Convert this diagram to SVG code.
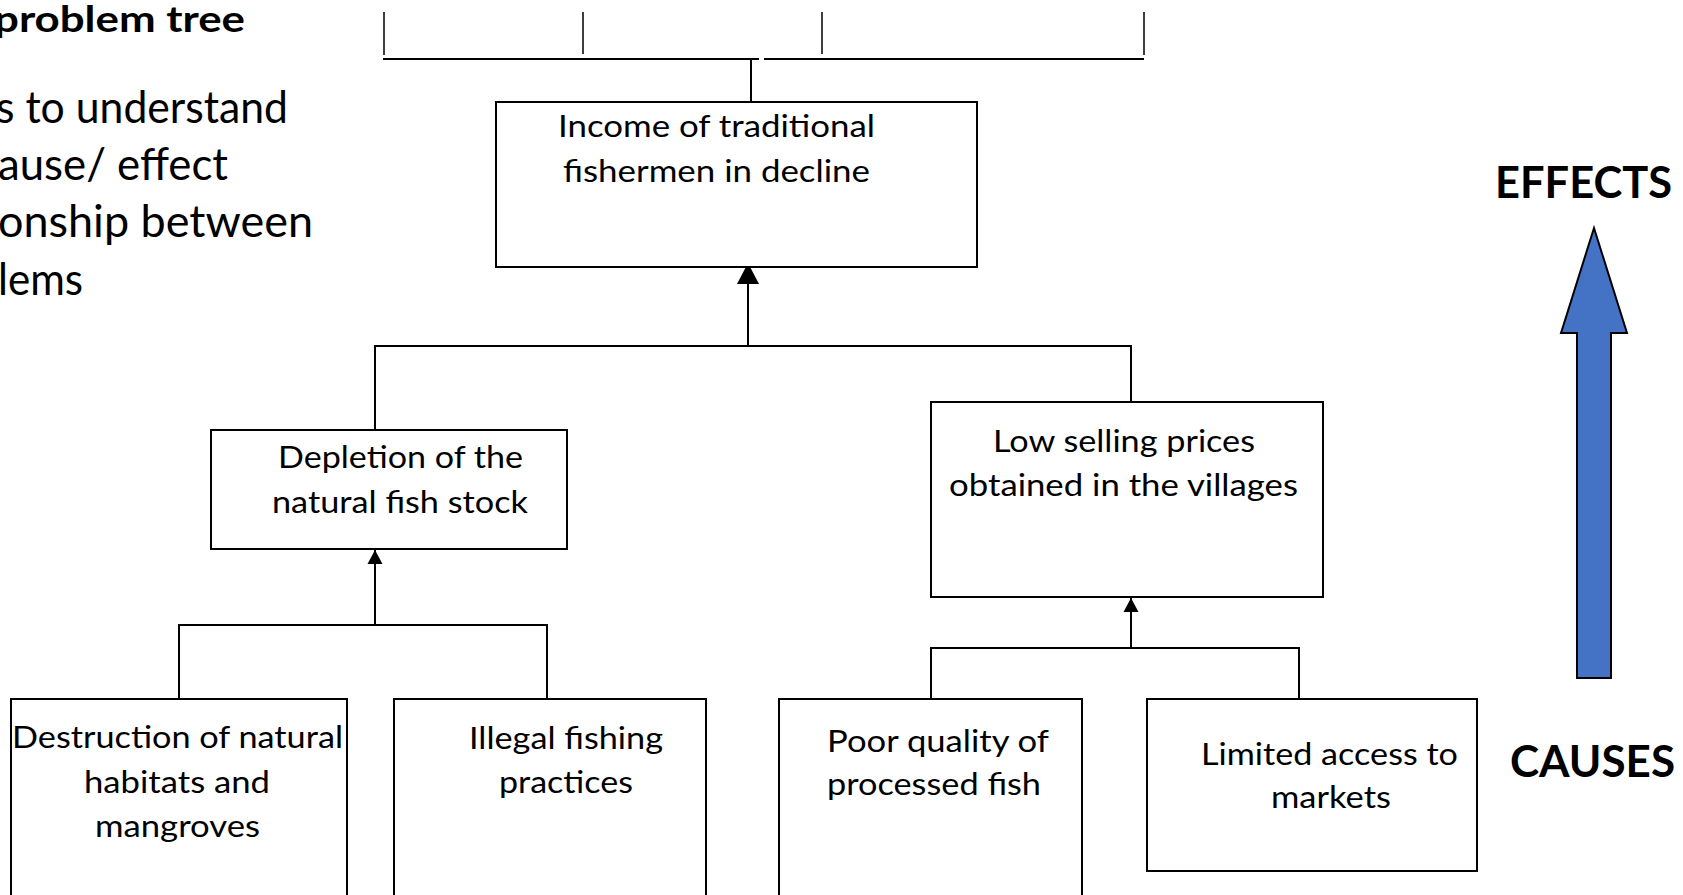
<svg xmlns="http://www.w3.org/2000/svg" width="1683" height="895" viewBox="0 0 1683 895">
  <style>
    text { font-family: "Lato", "Liberation Sans", sans-serif; fill: #000; }
    .box { fill: #fff; stroke: #000; stroke-width: 2; }
    .lbl { font-size: 30px; }
    .body { font-size: 44px; }
    .title { font-size: 36px; font-weight: bold; }
    .side { font-size: 43px; font-weight: bold; }
    .wire { fill: none; stroke: #000; stroke-width: 2; }
    .tick { fill: none; stroke: #000; stroke-width: 1.5; }
  </style>
  <defs>
    <marker id="head-s" markerUnits="userSpaceOnUse" markerWidth="15" markerHeight="16" viewBox="0 0 15 16" refX="14" refY="8" orient="auto">
      <path d="M0,0.5 L14,8 L0,15.5 Z" fill="#000"/>
    </marker>
    <marker id="head-l" markerUnits="userSpaceOnUse" markerWidth="22" markerHeight="23" viewBox="0 0 22 23" refX="21" refY="11.5" orient="auto">
      <path d="M0,0.5 L21,11.5 L0,22.5 Z" fill="#000"/>
    </marker>
  </defs>

  <!-- heading and explanatory text -->
  <g id="heading">
    <text class="title" x="-6" y="32" textLength="251" lengthAdjust="spacingAndGlyphs">problem tree</text>
    <text class="body" x="-4" y="123" textLength="292" lengthAdjust="spacingAndGlyphs">s to understand</text>
    <text class="body" x="-2" y="180" textLength="230" lengthAdjust="spacingAndGlyphs">ause/ effect</text>
    <text class="body" x="-2" y="237" textLength="315" lengthAdjust="spacingAndGlyphs">onship between</text>
    <text class="body" x="-2" y="295" textLength="85" lengthAdjust="spacingAndGlyphs">lems</text>
  </g>

  <!-- connectors -->
  <g id="connectors">
    <!-- bracket above the core problem -->
    <path class="wire" d="M383,59 H759 M764,59 H1144"/>
    <path class="tick" d="M384,12 V55 M583,12 V54 M822,12 V54 M1144,12 V55"/>
    <path class="wire" d="M751,59 V102"/>
    <!-- direct causes to core problem -->
    <path class="wire" d="M375,430 V346 H1131 V430"/>
    <path class="wire" d="M748,346 V263" marker-end="url(#head-l)"/>
    <!-- causes of stock depletion -->
    <path class="wire" d="M179,699 V625 H547 V699"/>
    <path class="wire" d="M375,625 V550" marker-end="url(#head-s)"/>
    <!-- causes of low prices -->
    <path class="wire" d="M931,699 V648 H1299 V699"/>
    <path class="wire" d="M1131,648 V598" marker-end="url(#head-s)"/>
  </g>

  <g id="core">
    <rect class="box" x="496" y="102" width="481" height="165"/>
    <text class="lbl" x="558" y="137" textLength="317" lengthAdjust="spacingAndGlyphs">Income of traditional</text>
    <text class="lbl" x="563" y="182" textLength="307" lengthAdjust="spacingAndGlyphs">fishermen in decline</text>
  </g>

  <g id="depletion">
    <rect class="box" x="211" y="430" width="356" height="119"/>
    <text class="lbl" x="278" y="468" textLength="245" lengthAdjust="spacingAndGlyphs">Depletion of the</text>
    <text class="lbl" x="272" y="513" textLength="256" lengthAdjust="spacingAndGlyphs">natural fish stock</text>
  </g>

  <g id="low-prices">
    <rect class="box" x="931" y="402" width="392" height="195"/>
    <text class="lbl" x="993" y="452" textLength="262" lengthAdjust="spacingAndGlyphs">Low selling prices</text>
    <text class="lbl" x="949" y="496" textLength="349" lengthAdjust="spacingAndGlyphs">obtained in the villages</text>
  </g>

  <g id="habitats">
    <rect class="box" x="11" y="699" width="336" height="220"/>
    <text class="lbl" x="12" y="748" textLength="331" lengthAdjust="spacingAndGlyphs">Destruction of natural</text>
    <text class="lbl" x="84" y="793" textLength="186" lengthAdjust="spacingAndGlyphs">habitats and</text>
    <text class="lbl" x="95" y="837" textLength="165" lengthAdjust="spacingAndGlyphs">mangroves</text>
  </g>

  <g id="illegal-fishing">
    <rect class="box" x="394" y="699" width="312" height="220"/>
    <text class="lbl" x="469" y="749" textLength="194" lengthAdjust="spacingAndGlyphs">Illegal fishing</text>
    <text class="lbl" x="499" y="793" textLength="134" lengthAdjust="spacingAndGlyphs">practices</text>
  </g>

  <g id="poor-quality">
    <rect class="box" x="779" y="699" width="303" height="220"/>
    <text class="lbl" x="827" y="752" textLength="222" lengthAdjust="spacingAndGlyphs">Poor quality of</text>
    <text class="lbl" x="827" y="795" textLength="214" lengthAdjust="spacingAndGlyphs">processed fish</text>
  </g>

  <g id="market-access">
    <rect class="box" x="1147" y="699" width="330" height="172"/>
    <text class="lbl" x="1201" y="765" textLength="257" lengthAdjust="spacingAndGlyphs">Limited access to</text>
    <text class="lbl" x="1271" y="808" textLength="120" lengthAdjust="spacingAndGlyphs">markets</text>
  </g>

  <!-- direction of reading: causes below, effects above -->
  <g id="direction">
    <text class="side" x="1495" y="198" textLength="177" lengthAdjust="spacingAndGlyphs">EFFECTS</text>
    <polygon points="1594,228 1627,333 1611,333 1611,678 1577,678 1577,333 1561,333" fill="#4472C4" stroke="#000" stroke-width="2" stroke-linejoin="miter"/>
    <text class="side" x="1510" y="777" textLength="165" lengthAdjust="spacingAndGlyphs">CAUSES</text>
  </g>
</svg>
